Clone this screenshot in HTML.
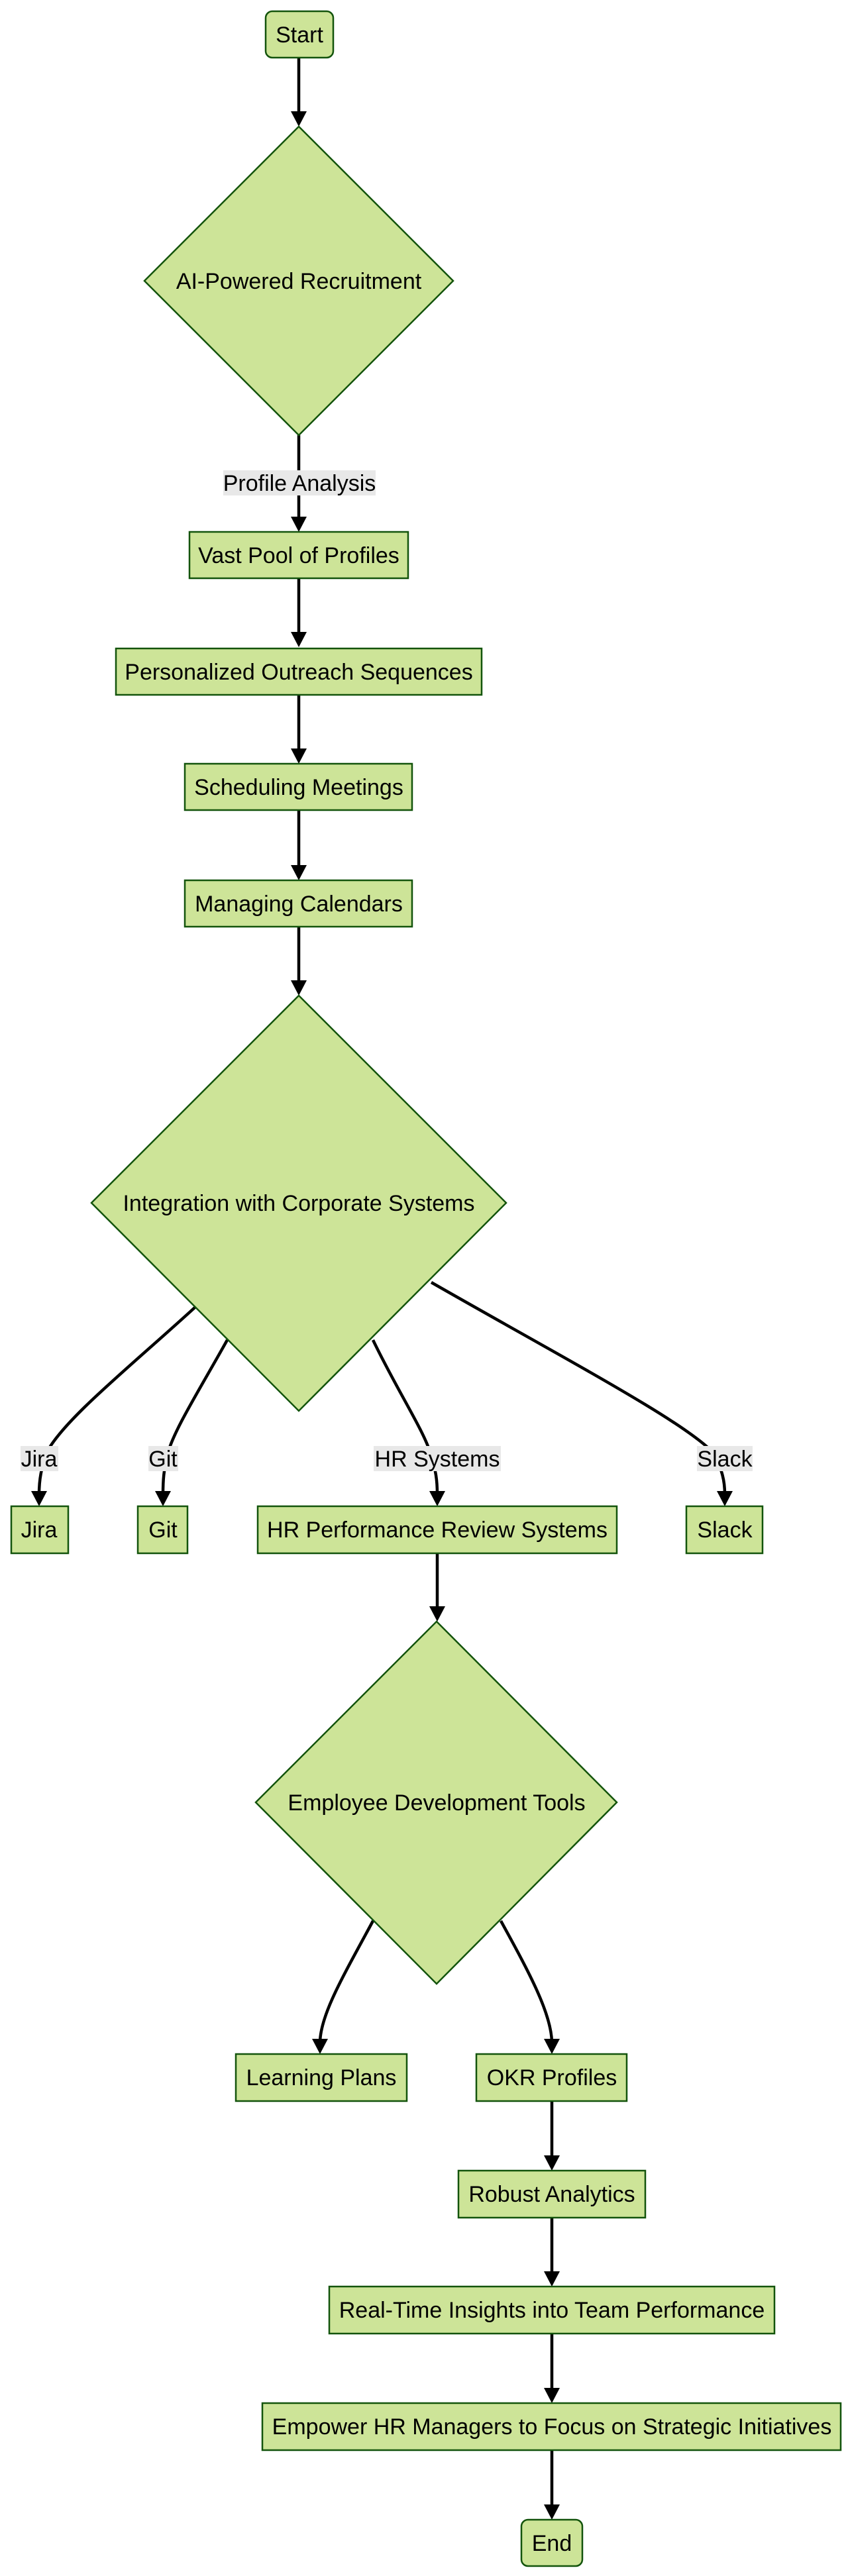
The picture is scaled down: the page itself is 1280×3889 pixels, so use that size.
<!DOCTYPE html>
<html><head><meta charset="utf-8"><style>
html,body{margin:0;padding:0;background:#fff;}
svg{display:block;}
text{font-family:"Liberation Sans",Arial,sans-serif;font-size:34px;fill:#000;}
.n{fill:#cde498;stroke:#13540c;stroke-width:2.5;}
.e{fill:none;stroke:#000;stroke-width:4.5;}
.lb{fill:#e8e8e8;}
</style></head><body>
<svg width="1280" height="3889" viewBox="0 0 1280 3889" xmlns="http://www.w3.org/2000/svg">
<g class="e">
<path d="M451,87 L451,172"/>
<path d="M451,657 L451,785"/>
<path d="M451,873 L451,959"/>
<path d="M451,1049 L451,1135"/>
<path d="M451,1223 L451,1311"/>
<path d="M451,1399 L451,1485"/>
<path d="M294,1974 C200,2060 100,2140 72,2190 C62,2215 59,2235 59,2256"/>
<path d="M343,2023 C300,2100 262,2160 253,2195 C247,2220 246,2235 246,2256"/>
<path d="M563,2023 C600,2100 640,2160 650,2195 C658,2220 660,2235 660,2256"/>
<path d="M651,1936 C850,2050 1040,2150 1078,2195 C1090,2220 1094,2235 1094,2256"/>
<path d="M660,2345 L660,2430"/>
<path d="M563,2900 C520,2980 484,3040 483,3083"/>
<path d="M756,2900 C800,2980 832,3040 833,3083"/>
<path d="M833,3172 L833,3259"/>
<path d="M833,3348 L833,3434"/>
<path d="M833,3523 L833,3610"/>
<path d="M833,3699 L833,3786"/>
</g>
<g fill="#000">
<polygon points="439,168 463,168 451,191"/>
<polygon points="439,780 463,780 451,803"/>
<polygon points="439,954 463,954 451,977"/>
<polygon points="439,1130 463,1130 451,1153"/>
<polygon points="439,1306 463,1306 451,1329"/>
<polygon points="439,1480 463,1480 451,1503"/>
<polygon points="47,2251 71,2251 59,2274"/>
<polygon points="234,2251 258,2251 246,2274"/>
<polygon points="648,2251 672,2251 660,2274"/>
<polygon points="1082,2251 1106,2251 1094,2274"/>
<polygon points="648,2425 672,2425 660,2448"/>
<polygon points="471,3078 495,3078 483,3101"/>
<polygon points="821,3078 845,3078 833,3101"/>
<polygon points="821,3254 845,3254 833,3277"/>
<polygon points="821,3429 845,3429 833,3452"/>
<polygon points="821,3605 845,3605 833,3628"/>
<polygon points="821,3781 845,3781 833,3804"/>
</g>
<rect class="lb" x="337" y="710" width="230" height="38"/>
<text x="452" y="741" text-anchor="middle">Profile Analysis</text>
<rect class="lb" x="31" y="2183" width="57" height="38"/>
<text x="59" y="2214" text-anchor="middle">Jira</text>
<rect class="lb" x="224" y="2183" width="45" height="38"/>
<text x="246" y="2214" text-anchor="middle">Git</text>
<rect class="lb" x="564" y="2183" width="192" height="38"/>
<text x="660" y="2214" text-anchor="middle">HR Systems</text>
<rect class="lb" x="1052" y="2183" width="84" height="38"/>
<text x="1094" y="2214" text-anchor="middle">Slack</text>
<rect class="n" x="401" y="17" width="102" height="70" rx="10"/>
<text x="452" y="64" text-anchor="middle">Start</text>
<polygon class="n" points="451,191 684,424 451,657 218,424"/>
<text x="451" y="436" text-anchor="middle">AI-Powered Recruitment</text>
<rect class="n" x="286" y="803" width="330" height="70"/>
<text x="451" y="850" text-anchor="middle">Vast Pool of Profiles</text>
<rect class="n" x="175" y="979" width="552" height="70"/>
<text x="451" y="1026" text-anchor="middle">Personalized Outreach Sequences</text>
<rect class="n" x="279" y="1153" width="343" height="70"/>
<text x="451" y="1200" text-anchor="middle">Scheduling Meetings</text>
<rect class="n" x="279" y="1329" width="343" height="70"/>
<text x="451" y="1376" text-anchor="middle">Managing Calendars</text>
<polygon class="n" points="451,1503 764,1816 451,2130 138,1816"/>
<text x="451" y="1828" text-anchor="middle">Integration with Corporate Systems</text>
<rect class="n" x="17" y="2274" width="86" height="71"/>
<text x="59" y="2321" text-anchor="middle">Jira</text>
<rect class="n" x="208" y="2274" width="75" height="71"/>
<text x="246" y="2321" text-anchor="middle">Git</text>
<rect class="n" x="389" y="2274" width="542" height="71"/>
<text x="660" y="2321" text-anchor="middle">HR Performance Review Systems</text>
<rect class="n" x="1036" y="2274" width="115" height="71"/>
<text x="1094" y="2321" text-anchor="middle">Slack</text>
<polygon class="n" points="659,2448 931,2721 659,2995 386,2721"/>
<text x="659" y="2733" text-anchor="middle">Employee Development Tools</text>
<rect class="n" x="356" y="3101" width="258" height="71"/>
<text x="485" y="3148" text-anchor="middle">Learning Plans</text>
<rect class="n" x="719" y="3101" width="227" height="71"/>
<text x="833" y="3148" text-anchor="middle">OKR Profiles</text>
<rect class="n" x="692" y="3277" width="282" height="71"/>
<text x="833" y="3324" text-anchor="middle">Robust Analytics</text>
<rect class="n" x="497" y="3452" width="672" height="71"/>
<text x="833" y="3499" text-anchor="middle">Real-Time Insights into Team Performance</text>
<rect class="n" x="396" y="3628" width="873" height="71"/>
<text x="833" y="3675" text-anchor="middle">Empower HR Managers to Focus on Strategic Initiatives</text>
<rect class="n" x="787" y="3804" width="92" height="70" rx="10"/>
<text x="833" y="3851" text-anchor="middle">End</text>
</svg>
</body></html>
